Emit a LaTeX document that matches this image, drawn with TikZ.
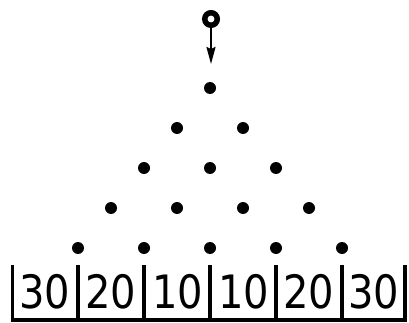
\documentclass[tikz,border=0pt]{standalone}
\usepackage{fontspec}
\setmainfont{DejaVu Sans}
\usetikzlibrary{arrows.meta}
\newcommand{\binnum}[1]{\scalebox{0.87}[1]{#1}}
\begin{document}
\begin{tikzpicture}[x=1pt,y=-1pt,
  peg/.style={circle,fill=black,inner sep=0pt,minimum size=12pt},
  wall/.style={line width=3.5pt},
  lbl/.style={font=\fontsize{46}{46}\selectfont,inner sep=0pt}]
\useasboundingbox (0,0) rectangle (409,323);
% source
\node[circle,draw,line width=5.5pt,inner sep=0pt,minimum size=12.5pt] (src) at (211,19) {};
% pegs
\node[peg] (p11) at (210,88) {};
\node[peg] (p21) at (177,128) {};
\node[peg] (p22) at (243,128) {};
\node[peg] (p31) at (144,168) {};
\node[peg] (p32) at (210,168) {};
\node[peg] (p33) at (276,168) {};
\node[peg] (p41) at (111,208) {};
\node[peg] (p42) at (177,208) {};
\node[peg] (p43) at (243,208) {};
\node[peg] (p44) at (309,208) {};
\node[peg] (p51) at (78,248) {};
\node[peg] (p52) at (144,248) {};
\node[peg] (p53) at (210,248) {};
\node[peg] (p54) at (276,248) {};
\node[peg] (p55) at (342,248) {};
\coordinate (tip) at (211,64);
\draw[line width=2pt,-{Stealth[length=17pt,width=9pt,inset=2pt]}] (src.south) -- (tip);
% bins
\foreach \x in {12.5,78,144,210,276,342,405}
  \draw[wall] (\x,265) -- (\x,321.5);
\draw[wall] (10.75,320) -- (406.75,320);
\node[lbl] at (44.5,291.5) {\binnum{30}};
\node[lbl] at (111,291.5) {\binnum{20}};
\node[lbl] at (177.5,291.5) {\binnum{10}};
\node[lbl] at (243.5,291.5) {\binnum{10}};
\node[lbl] at (309,291.5) {\binnum{20}};
\node[lbl] at (374,291.5) {\binnum{30}};
\end{tikzpicture}
\end{document}
